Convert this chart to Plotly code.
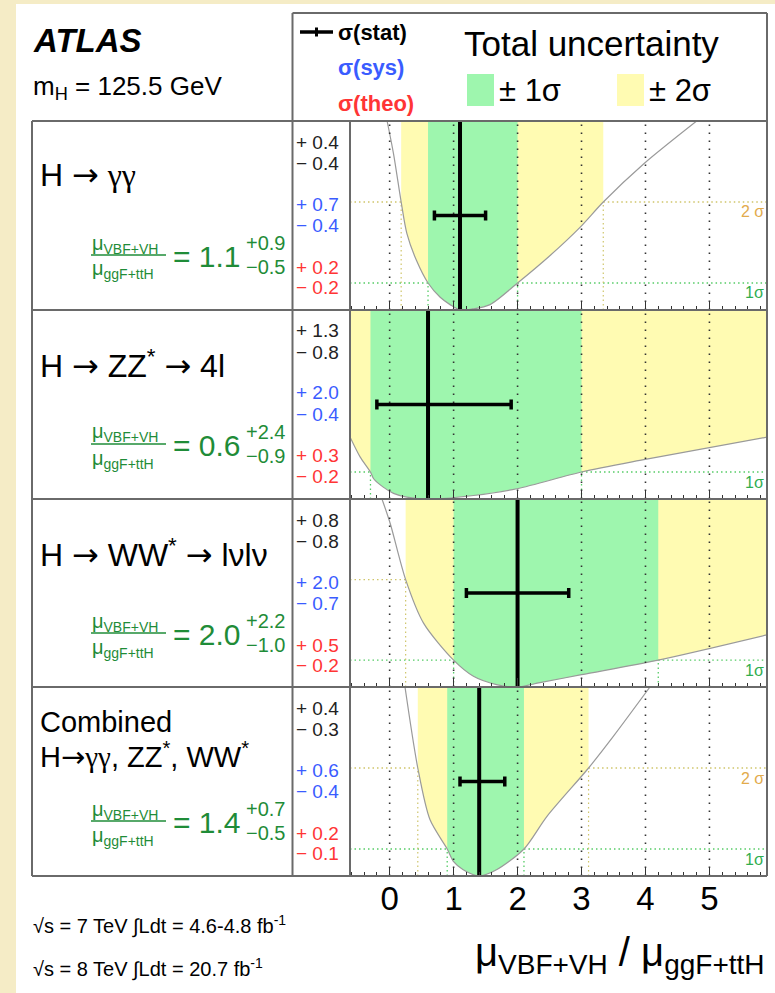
import plotly.graph_objects as go

W, H = 775, 993
FONT = "Liberation Sans, Arial, Helvetica, sans-serif"
ARROW = "<span style='font-family:DejaVu Sans'>→</span>"
GAMMA2 = "<span style='font-family:Liberation Serif'>γγ</span>"

# ---------------- data ----------------
channel_titles = ["H " + ARROW + " " + GAMMA2, "H " + ARROW + " ZZ<sup>*</sup> " + ARROW + " 4l",
                  "H " + ARROW + " WW<sup>*</sup> " + ARROW + " lνlν"]
combined_title = ["Combined", "H" + ARROW + GAMMA2 + ", ZZ<sup>*</sup>, WW<sup>*</sup>"]
mu_best = [1.1, 0.6, 2.0, 1.4]
tot_up = [0.9, 2.4, 2.2, 0.7]
tot_dn = [0.5, 0.9, 1.0, 0.5]
stat_up = [0.4, 1.3, 0.8, 0.4]
stat_dn = [0.4, 0.8, 0.8, 0.3]
sys_up = [0.7, 2.0, 2.0, 0.6]
sys_dn = [0.4, 0.4, 0.7, 0.4]
theo_up = [0.2, 0.3, 0.5, 0.2]
theo_dn = [0.2, 0.2, 0.2, 0.1]
two_sig_lo = [0.18, None, 0.25, 0.44]
two_sig_hi = [3.34, None, None, 3.11]
show_2sig_label = [True, False, False, True]

# -2 ln Lambda scans
scan_gg_x = [-0.04, 0.06, 0.18, 0.27, 0.42, 0.6, 0.79, 0.95, 1.1, 1.3, 1.57, 2.0, 2.5, 2.98, 3.34, 3.97, 4.8]
scan_gg_y = [7.0, 5.79, 4.0, 2.83, 1.83, 1.0, 0.47, 0.19, 0.0, 0.04, 0.2, 1.0, 2.0, 3.07, 4.0, 5.41, 7.0]
scan_zz_x = [-0.62, -0.46, -0.3, -0.25, -0.10, 0.06, 0.27, 0.6, 1.31, 1.99, 3.0, 3.91, 5.9]
scan_zz_y = [2.3, 1.55, 1.0, 0.75, 0.44, 0.21, 0.07, 0.0, 0.13, 0.38, 1.0, 1.43, 2.29]
scan_ww_x = [-0.12, 0.01, 0.25, 0.53, 1.0, 1.31, 1.67, 2.0, 2.35, 3.0, 4.2, 5.9]
scan_ww_y = [7.0, 6.08, 4.0, 2.38, 1.0, 0.4, 0.09, 0.0, 0.16, 0.46, 1.0, 1.94]
scan_cb_x = [0.24, 0.44, 0.63, 0.9, 1.0, 1.15, 1.4, 1.67, 2.1, 2.46, 3.11, 3.5, 4.07]
scan_cb_y = [7.0, 4.0, 2.09, 1.0, 0.53, 0.23, 0.0, 0.23, 1.0, 2.21, 4.0, 5.18, 7.0]

x_tick_vals = [0, 1, 2, 3, 4, 5]

# ---------------- style ----------------
BG = "#f5ecc6"
GREEN_FILL = "#9ef6ae"
YELLOW_FILL = "#fffbb2"
BLUE = "#3a5cff"
RED = "#ff3535"
GREEN_TXT = "#1f8c38"
SIG1_LINE = "#55cc66"
SIG2_LINE = "#cfc56a"
SIG1_TXT = "#2fae4f"
SIG2_TXT = "#e2ab4c"
BORDER = "#6a6a6a"

tops = [121, 310, 499, 687]
bots = [310, 499, 687, 876]
PX_L, PX_R = 350, 767
XR = [-0.62, 5.9]
YR = [0, 7]


def X(p):
    return p / W


def Y(p):
    return 1 - p / H


scans = [(scan_gg_x, scan_gg_y), (scan_zz_x, scan_zz_y), (scan_ww_x, scan_ww_y), (scan_cb_x, scan_cb_y)]

fig = go.Figure()
shapes = []
ann = []


def txt(x, y, s, size, color="black", xanchor="left", yanchor="middle"):
    ann.append(dict(x=X(x), y=Y(y), xref="paper", yref="paper", text=s, showarrow=False,
                    xanchor=xanchor, yanchor=yanchor,
                    font=dict(size=size, color=color, family=FONT)))


def line(x0, y0, x1, y1, color=BORDER, width=2, layer="above"):
    shapes.append(dict(type="line", xref="paper", yref="paper", x0=X(x0), y0=Y(y0), x1=X(x1), y1=Y(y1),
                       line=dict(color=color, width=width), layer=layer))


def rect(x0, y0, x1, y1, fill, layer="below"):
    shapes.append(dict(type="rect", xref="paper", yref="paper", x0=X(x0), y0=Y(y0), x1=X(x1), y1=Y(y1),
                       fillcolor=fill, line=dict(width=0), layer=layer))


axes = {}
for k in range(4):
    sfx = "" if k == 0 else str(k + 1)
    xa, ya = "x" + sfx, "y" + sfx
    common = dict(xaxis=xa, yaxis=ya, hoverinfo="skip", showlegend=False)
    m = mu_best[k]
    lo1, hi1 = m - tot_dn[k], m + tot_up[k]
    lo2 = two_sig_lo[k] if two_sig_lo[k] is not None else XR[0] - 1
    hi2 = two_sig_hi[k] if two_sig_hi[k] is not None else XR[1] + 1
    top = YR[1] + 0.5
    # bands
    fig.add_trace(go.Scatter(x=[lo2, hi2, hi2, lo2, lo2], y=[0, 0, top, top, 0], mode="lines",
                             fill="toself", fillcolor=YELLOW_FILL, line=dict(width=0), **common))
    fig.add_trace(go.Scatter(x=[lo1, hi1, hi1, lo1, lo1], y=[0, 0, top, top, 0], mode="lines",
                             fill="toself", fillcolor=GREEN_FILL, line=dict(width=0), **common))
    sx, sy = scans[k]
    # white below the scan curve
    fig.add_trace(go.Scatter(x=sx, y=sy, mode="lines", fill="tozeroy", fillcolor="white",
                             line=dict(width=0, shape="spline", smoothing=0.8, color="rgba(0,0,0,0)"), **common))
    # horizontal 1 sigma / 2 sigma dotted lines (visible parts)
    hx = []
    hy = []
    if lo1 > XR[0]:
        hx += [XR[0], lo1, None]
        hy += [1, 1, None]
    hx += [hi1, XR[1]]
    hy += [1, 1]
    fig.add_trace(go.Scatter(x=hx, y=hy, mode="lines", line=dict(color=SIG1_LINE, width=1.3, dash="1.5px,3px"), **common))
    h2x, h2y = [], []
    if two_sig_lo[k] is not None:
        h2x += [XR[0], lo2, None]
        h2y += [4, 4, None]
    if two_sig_hi[k] is not None:
        h2x += [hi2, XR[1]]
        h2y += [4, 4]
    if h2x:
        fig.add_trace(go.Scatter(x=h2x, y=h2y, mode="lines", line=dict(color=SIG2_LINE, width=1.3, dash="1.5px,3px"), **common))
    # vertical dotted edges below the curve
    vx = [lo1, lo1, None, hi1, hi1]
    vy = [0, 1, None, 0, 1]
    fig.add_trace(go.Scatter(x=vx, y=vy, mode="lines", line=dict(color=SIG1_LINE, width=1.3, dash="1.5px,3px"), **common))
    v2x, v2y = [], []
    if two_sig_lo[k] is not None:
        v2x += [lo2, lo2, None]
        v2y += [0, 4, None]
    if two_sig_hi[k] is not None:
        v2x += [hi2, hi2]
        v2y += [0, 4]
    if v2x:
        fig.add_trace(go.Scatter(x=v2x, y=v2y, mode="lines", line=dict(color=SIG2_LINE, width=1.2, dash="1.5px,3px"), **common))
    # curve
    fig.add_trace(go.Scatter(x=sx, y=sy, mode="lines",
                             line=dict(width=1.2, shape="spline", smoothing=0.8, color="#9a9a9a"), **common))
    # vertical grid
    gx, gy = [], []
    for t in x_tick_vals:
        gx += [t, t, None]
        gy += [0, top, None]
    fig.add_trace(go.Scatter(x=gx, y=gy, mode="lines", line=dict(color="#333333", width=1.6, dash="1.6px,6.4px"), **common))
    # best fit
    fig.add_trace(go.Scatter(x=[m, m], y=[0, top], mode="lines", line=dict(color="black", width=4), **common))
    # stat error bar
    fig.add_trace(go.Scatter(x=[m], y=[3.5], mode="markers", marker=dict(size=1, color="black"),
                             error_x=dict(type="data", symmetric=False, array=[stat_up[k]], arrayminus=[stat_dn[k]],
                                          color="black", thickness=3.5, width=5), **common))

    axes["xaxis" + sfx] = dict(domain=[X(PX_L), X(PX_R)], anchor=ya, range=XR, showgrid=False, zeroline=False,
                               showline=False, tickmode="array", tickvals=x_tick_vals,
                               ticktext=[str(v) for v in x_tick_vals],
                               ticks="inside", ticklen=9, tickwidth=1.5, tickcolor="#333",
                               showticklabels=(k == 3),
                               tickfont=dict(size=33, color="black", family=FONT),
                               minor=dict(tickmode="linear", tick0=0, dtick=0.2, ticks="inside", ticklen=4,
                                          tickwidth=1, tickcolor="#333", showgrid=False),
                               fixedrange=True)
    axes["yaxis" + sfx] = dict(domain=[Y(bots[k]), Y(tops[k])], anchor=xa, range=YR, showgrid=False,
                               zeroline=False, showline=False, showticklabels=False, ticks="", fixedrange=True)

    T = tops[k]
    # titles
    if k < 3:
        txt(38, T + 54, channel_titles[k], 32)
    else:
        txt(38, T + 35, combined_title[0], 29)
        txt(38, T + 68, combined_title[1], 29)
    # ratio
    txt(90, T + 123, "μ<sub>VBF+VH</sub>", 20, GREEN_TXT)
    line(91, T + 134, 166, T + 134, color=GREEN_TXT, width=1.5)
    txt(90, T + 149, "μ<sub>ggF+ttH</sub>", 20, GREEN_TXT)
    txt(243, T + 135, "= %.1f" % m, 30, GREEN_TXT, xanchor="right")
    txt(244, T + 122, "+%.1f" % tot_up[k], 20, GREEN_TXT)
    txt(244, T + 146, "−%.1f" % tot_dn[k], 20, GREEN_TXT)
    # uncertainty breakdown column
    rows = [("+ %.1f" % stat_up[k], "#222", 21), ("− %.1f" % stat_dn[k], "#222", 42),
            ("+ %.1f" % sys_up[k], BLUE, 83), ("− %.1f" % sys_dn[k], BLUE, 104),
            ("+ %.1f" % theo_up[k], RED, 146), ("− %.1f" % theo_dn[k], RED, 166)]
    for s, c, dy in rows:
        txt(294, T + dy, s, 19, c)
    # sigma labels
    ypx1 = bots[k] - 1 * (bots[k] - tops[k]) / YR[1]
    txt(766, ypx1 + 10, "1σ", 16, SIG1_TXT, xanchor="right")
    if show_2sig_label[k]:
        ypx2 = bots[k] - 4 * (bots[k] - tops[k]) / YR[1]
        txt(766, ypx2 + 10, "2 σ", 16, SIG2_TXT, xanchor="right")

# background
rect(16, 4, 775, 993, "white", layer="below")

# table borders
for yy in [121, 310, 499, 687, 876]:
    line(32, yy, PX_R, yy)
line(32, 121, 32, 876)
line(292.5, 13, 292.5, 876)
line(350, 121, 350, 876)
line(PX_R, 13, PX_R, 876)
line(292.5, 13, PX_R, 13)

# header
txt(31, 40, "<b><i>ATLAS</i></b>", 33)
txt(31, 87, "m<sub>H</sub> = 125.5 GeV", 26)

# legend
line(300, 32, 333, 32, color="black", width=3.5)
line(316.5, 27.5, 316.5, 36.5, color="black", width=3)
txt(336, 32, "<b>σ(stat)</b>", 22, "black")
txt(336, 68, "<b>σ(sys)</b>", 22, BLUE)
txt(336, 104, "<b>σ(theo)</b>", 22, RED)
txt(462, 43, "Total uncertainty", 35)
rect(467, 74, 494, 106, GREEN_FILL, layer="above")
txt(497, 90, "± 1σ", 31)
rect(617, 74, 644, 106, YELLOW_FILL, layer="above")
txt(647, 90, "± 2σ", 31)

# lumi
txt(31, 925, "√s = 7 TeV ∫Ldt = 4.6-4.8 fb<sup>-1</sup>", 20)
txt(31, 968, "√s = 8 TeV ∫Ldt = 20.7 fb<sup>-1</sup>", 20)

# x axis title
txt(767, 955, "μ<sub>VBF+VH</sub> / μ<sub>ggF+ttH</sub>", 40, xanchor="right")

fig.update_layout(width=W, height=H, margin=dict(l=0, r=0, t=0, b=0), autosize=False,
                  paper_bgcolor=BG, plot_bgcolor="white", shapes=shapes, annotations=ann,
                  font=dict(family=FONT), showlegend=False, **axes)

fig.write_html("out.html", config={"displayModeBar": False, "staticPlot": True},
               post_script="document.body.style.margin='0';document.body.style.background='%s';" % BG)
